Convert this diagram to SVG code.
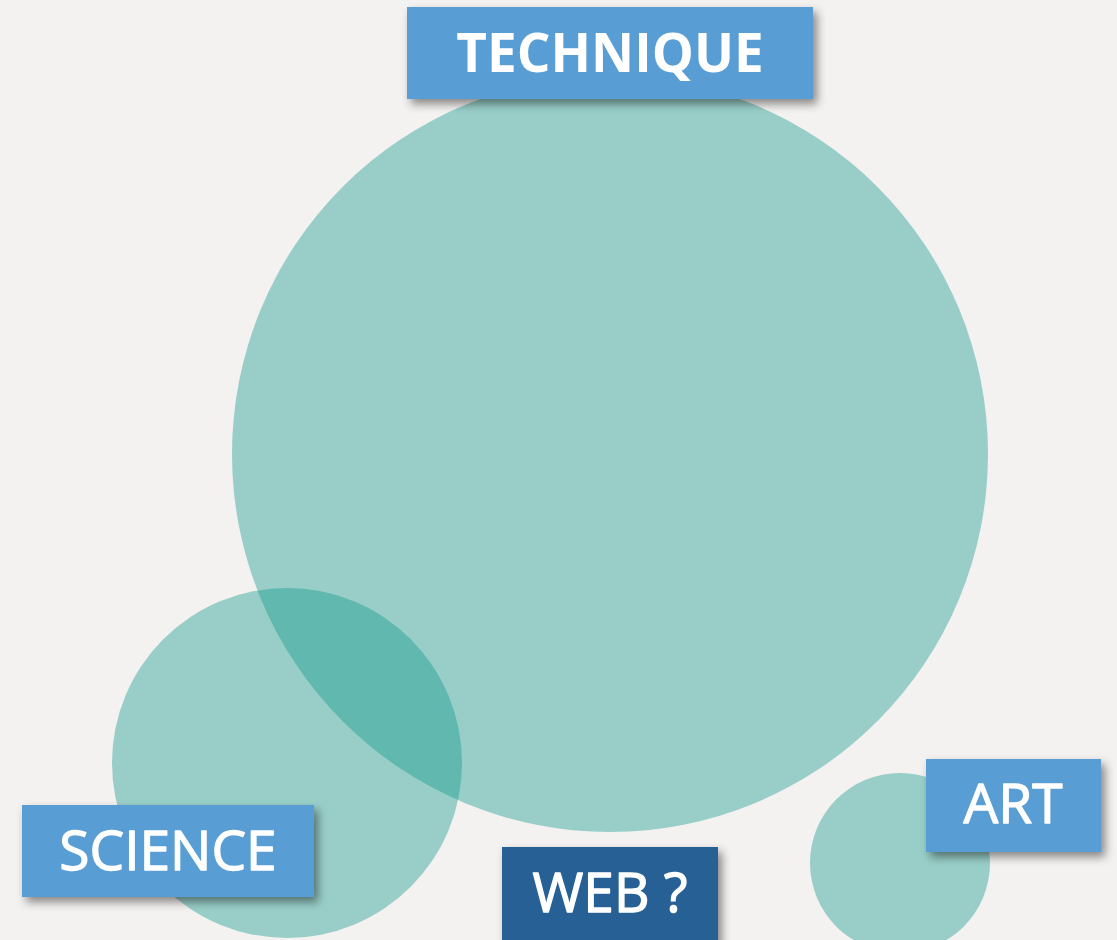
<svg xmlns="http://www.w3.org/2000/svg" width="1117" height="940" viewBox="0 0 1117 940">
  <defs>
    <filter id="shadow" x="-20%" y="-30%" width="140%" height="160%">
      <feDropShadow dx="4" dy="5" stdDeviation="5" flood-color="#000" flood-opacity="0.45"/>
    </filter>
  </defs>
  <style>
    .circle { fill: #0a9588; fill-opacity: 0.39; }
    .box { fill: #589dd4; filter: url(#shadow); }
    .box-dark { fill: #276194; filter: url(#shadow); }
    .label { font-family: "Open Sans", "Noto Sans", "Liberation Sans", sans-serif; fill: #ffffff; text-anchor: middle; font-size: 55px; font-weight: 400; stroke: #ffffff; stroke-width: 1.3px; stroke-linejoin: round; }
    .label-bold { font-weight: 700; font-size: 53px; stroke: none; }
  </style>
  <rect x="0" y="0" width="1117" height="940" fill="#f3f2f0"/>
  <g id="circles">
    <circle id="circle-technique" class="circle" cx="610" cy="454" r="378"/>
    <circle id="circle-science" class="circle" cx="287" cy="763" r="175"/>
    <circle id="circle-art" class="circle" cx="900" cy="863" r="90"/>
  </g>
  <g id="connectors"></g>
  <g id="node-technique">
    <rect class="box" x="407" y="7" width="406" height="92"/>
    <text class="label label-bold" x="610" y="72">TECHNIQUE</text>
  </g>
  <g id="node-science">
    <rect class="box" x="22" y="805" width="292" height="92"/>
    <text class="label" x="168" y="870">SCIENCE</text>
  </g>
  <g id="node-web">
    <rect class="box-dark" x="502" y="847" width="216" height="100"/>
    <text class="label" x="610" y="912">WEB ?</text>
  </g>
  <g id="node-art">
    <rect class="box" x="926" y="759" width="175" height="93"/>
    <text class="label" x="1013" y="823">ART</text>
  </g>
</svg>
